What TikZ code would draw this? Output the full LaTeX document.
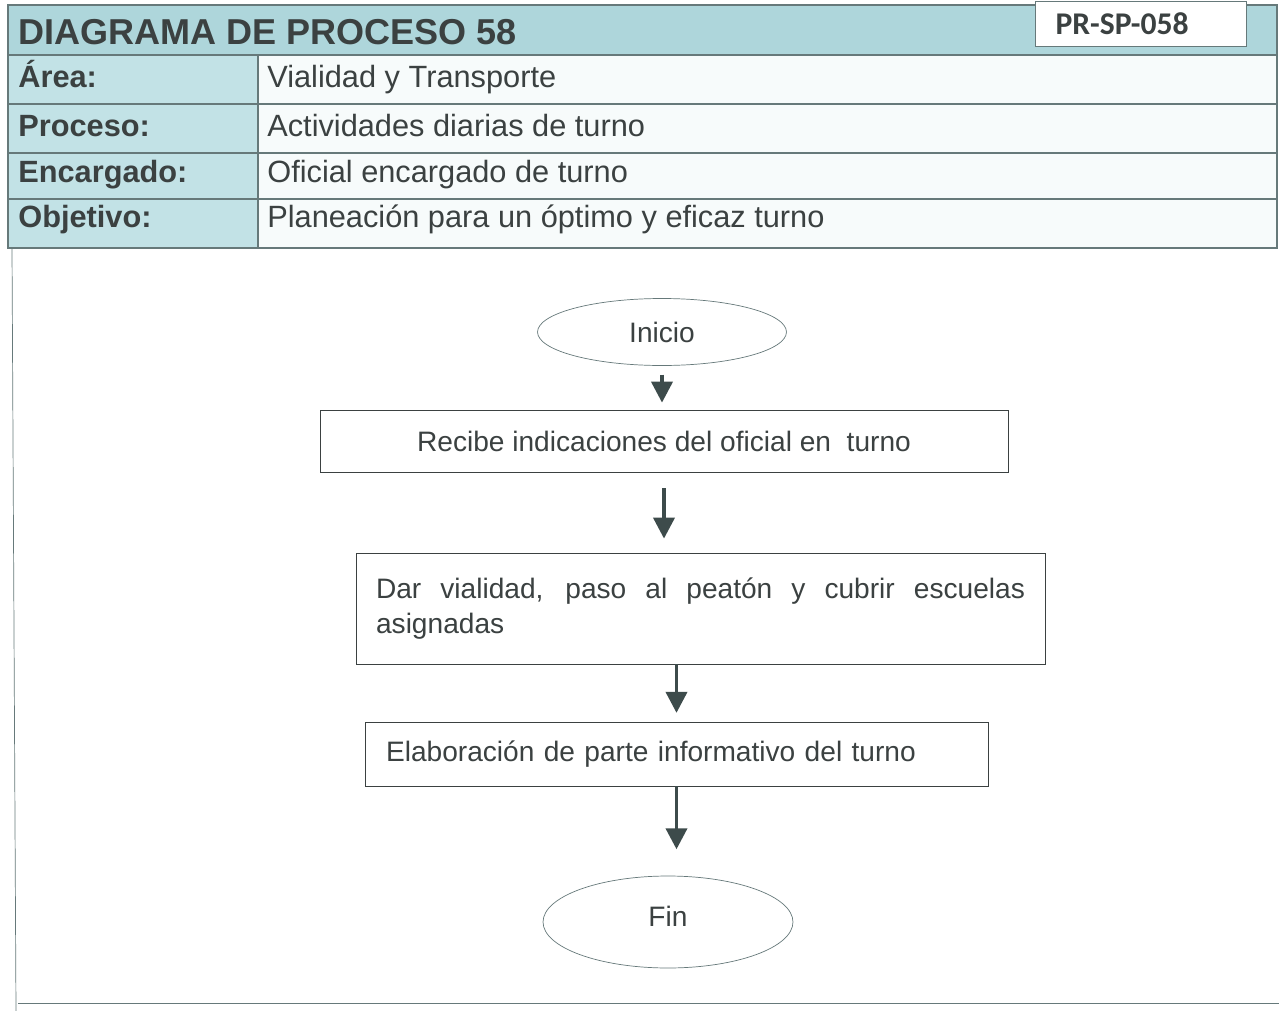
\documentclass[tikz,border=0pt]{standalone}
\usepackage{fontspec}
\setmainfont{Liberation Sans}
\newfontfamily\codefont{Carlito}
\usetikzlibrary{arrows.meta, positioning, shapes.geometric}
\definecolor{headfill}{HTML}{AED6DB}
\definecolor{labelfill}{HTML}{C2E2E6}
\definecolor{valuefill}{HTML}{F7FBFB}
\definecolor{rulegray}{HTML}{66797A}
\definecolor{inkgray}{HTML}{3B4141}
\definecolor{arrowgray}{HTML}{3D4B4B}

\begin{document}
\begin{tikzpicture}[x=0.02cm, y=-0.02cm,
      every node/.style={text=inkgray},
      lbl/.style={anchor=base west, font=\fontsize{17.5}{20}\selectfont\bfseries, inner sep=0pt},
      val/.style={anchor=base west, font=\fontsize{17.5}{20}\selectfont, inner sep=0pt},
      stepbox/.style={draw=inkgray, thin, fill=white, font=\fontsize{16}{20.4}\selectfont},
      terminal/.style={ellipse, draw=rulegray, thin, fill=white, font=\fontsize{16}{19}\selectfont, inner sep=0pt},
      arr/.style={-{Triangle[length=0.42cm, width=0.42cm]}, line width=2.2pt, draw=arrowgray}
    ]
    \useasboundingbox (0,0) rectangle (1279,1011);
    % header table
    \fill[headfill] (8,5) rectangle (1277,55);
    \fill[labelfill] (8,55) rectangle (258,248);
    \fill[valuefill] (258,55) rectangle (1277,248);
    \draw[rulegray, semithick] (8,5) rectangle (1277,248);
    \foreach \yrow in {55,104,153,199}
      \draw[rulegray, semithick] (8,\yrow) -- (1277,\yrow);
    \draw[rulegray, semithick] (258,55) -- (258,248);
    \node[anchor=base west, font=\fontsize{20.5}{24}\selectfont\bfseries, inner sep=0pt] (title) at (18,44) {DIAGRAMA DE PROCESO 58};
    \node[draw=rulegray, semithick, fill=white, minimum height=0.9cm, anchor=north west, inner xsep=0.4cm,
          text width=3.42cm, align=left, font=\codefont\fontsize{18}{20}\selectfont\bfseries] (code) at (1035,1) {PR-SP-058};
    \node[lbl] (area)  at (18,87)  {Área:};
    \node[val] (areav) at (267,87) {Vialidad y Transporte};
    \node[lbl] (proc)  at (18,136) {Proceso:};
    \node[val] (procv) at (267,136) {Actividades diarias de turno};
    \node[lbl] (enc)   at (18,182) {Encargado:};
    \node[val] (encv)  at (267,182) {Oficial encargado de turno};
    \node[lbl] (obj)   at (18,227) {Objetivo:};
    \node[val] (objv)  at (267,227) {Planeación para un óptimo y eficaz turno};
    % lower frame
    \draw[rulegray, thin] (12,248) -- (16,1011);
    \draw[rulegray, thin] (18,1003) -- (1279,1003);
    % flow
    \node[terminal, minimum width=4.98cm, minimum height=1.34cm] (inicio) at (662,332) {Inicio};
    \node[stepbox, minimum width=13.76cm, minimum height=1.24cm] (recibe) at (664,441) {Recibe indicaciones del oficial en\ \ turno};
    \node[stepbox, minimum height=2.22cm, text width=12.98cm, inner xsep=0.4cm, align=justify] (dar) at (700.5,608.5)
          {Dar vialidad, paso al peatón y cubrir escuelas\linebreak asignadas};
    \node[stepbox, minimum height=1.28cm, text width=11.62cm, inner xsep=0.42cm, align=left] (elab) at (676.5,754)
          {Elaboración de parte informativo del turno\\[0.1cm]};
    \node[terminal, minimum width=5cm, minimum height=1.84cm] (fin) at (668,922) {\raisebox{6pt}{Fin}};
    \draw[arr, shorten <=5pt, shorten >=4pt] (inicio.south) -- (inicio.south |- recibe.north);
    \draw[arr, shorten <=9pt, shorten >=8pt] (recibe.south) -- (recibe.south |- dar.north);
    \draw[arr, shorten >=5pt] (elab.north |- dar.south) -- (elab.north);
    \draw[arr, shorten >=15pt] (elab.south) -- (elab.south |- fin.north);
\end{tikzpicture}
\end{document}
